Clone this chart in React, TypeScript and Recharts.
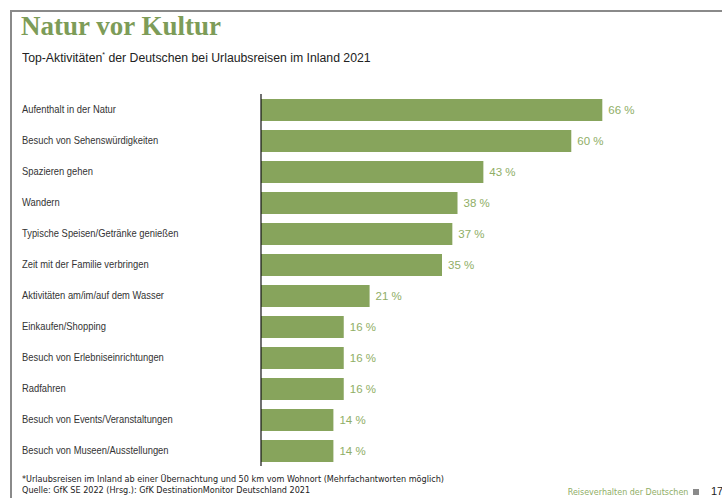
import React from "react";
import { Bar, BarChart, LabelList, XAxis, YAxis } from "recharts";

const activities = [
  "Aufenthalt in der Natur",
  "Besuch von Sehenswürdigkeiten",
  "Spazieren gehen",
  "Wandern",
  "Typische Speisen/Getränke genießen",
  "Zeit mit der Familie verbringen",
  "Aktivitäten am/im/auf dem Wasser",
  "Einkaufen/Shopping",
  "Besuch von Erlebniseinrichtungen",
  "Radfahren",
  "Besuch von Events/Veranstaltungen",
  "Besuch von Museen/Ausstellungen",
];

const shares = [66, 60, 43, 38, 37, 35, 21, 16, 16, 16, 14, 14];

const data = activities.map((name, i) => ({ name, value: shares[i] }));

const GREEN = "#87a45c";
const LABEL_GREEN = "#8fae66";
const SANS = "'Liberation Sans', Arial, sans-serif";
const DEJAVU = "'DejaVu Sans', sans-serif";

const CategoryTick = (props: any) => {
  const { y, payload } = props;
  return (
    <text
      transform={`translate(22, ${y}) scale(0.92, 1)`}
      dy={3.5}
      fontSize={10.2}
      fill="#333"
      fontFamily={SANS}
      textAnchor="start"
    >
      {payload.value}
    </text>
  );
};

export default function App() {
  return (
    <div
      style={{
        position: "absolute",
        left: 0,
        top: 0,
        width: 722,
        height: 498,
        background: "#fff",
        overflow: "hidden",
        fontFamily: SANS,
      }}
    >
      {/* frame */}
      <div style={{ position: "absolute", left: 10, top: 10, width: 712, height: 2, background: "#8a8a8a" }} />
      <div style={{ position: "absolute", left: 10, top: 10, width: 2, height: 488, background: "#8a8a8a" }} />

      <div
        style={{
          position: "absolute",
          left: 21,
          top: 11,
          fontFamily: "'Liberation Serif', serif",
          fontWeight: "bold",
          fontSize: 27,
          lineHeight: "31px",
          color: "#7d9c58",
          whiteSpace: "nowrap",
        }}
      >
        Natur vor Kultur
      </div>
      <div
        style={{
          position: "absolute",
          left: 22,
          top: 51,
          fontSize: 12.5,
          color: "#222",
          whiteSpace: "nowrap",
          transform: "scale(0.98, 1)",
          transformOrigin: "left top",
        }}
      >
        Top-Aktivitäten<sup style={{ fontSize: 7 }}>*</sup> der Deutschen bei Urlaubsreisen im Inland 2021
      </div>

      <div style={{ position: "absolute", left: 0, top: 0 }}>
        <BarChart
          width={722}
          height={498}
          layout="vertical"
          data={data}
          margin={{ top: 94, right: 99, bottom: 32, left: 0 }}
          barCategoryGap={9}
        >
          <XAxis type="number" domain={[0, 70]} hide />
          <YAxis
            type="category"
            dataKey="name"
            width={261}
            axisLine={{ stroke: "#111", strokeWidth: 1.2 }}
            tickLine={false}
            tick={<CategoryTick />}
            interval={0}
          />
          <Bar dataKey="value" fill={GREEN} barSize={22} isAnimationActive={false}>
            <LabelList
              dataKey="value"
              position="right"
              offset={6}
              formatter={(v: any) => `${v} %`}
              style={{ fill: LABEL_GREEN, fontSize: 11.5, fontFamily: SANS }}
            />
          </Bar>
        </BarChart>
      </div>

      <div
        style={{
          position: "absolute",
          left: 22,
          top: 474,
          fontSize: 9,
          fontFamily: DEJAVU,
          color: "#222",
          lineHeight: "11px",
          whiteSpace: "nowrap",
          transform: "scale(0.9, 1)",
          transformOrigin: "left top",
        }}
      >
        <div>*Urlaubsreisen im Inland ab einer Übernachtung und 50 km vom Wohnort (Mehrfachantworten möglich)</div>
        <div>Quelle: GfK SE 2022 (Hrsg.): GfK DestinationMonitor Deutschland 2021</div>
      </div>
      <div
        style={{
          position: "absolute",
          right: 722 - 688,
          top: 486,
          fontSize: 8.5,
          fontFamily: DEJAVU,
          color: LABEL_GREEN,
          whiteSpace: "nowrap",
          lineHeight: "12px",
          transform: "scale(0.94, 1)",
          transformOrigin: "right top",
        }}
      >
        Reiseverhalten der Deutschen
      </div>
      <div style={{ position: "absolute", left: 693, top: 489, width: 6, height: 6, background: "#8a8a8a" }} />
      <div
        style={{
          position: "absolute",
          left: 711,
          top: 485,
          fontSize: 11,
          fontFamily: SANS,
          color: "#222",
          lineHeight: "13px",
        }}
      >
        17
      </div>
    </div>
  );
}
